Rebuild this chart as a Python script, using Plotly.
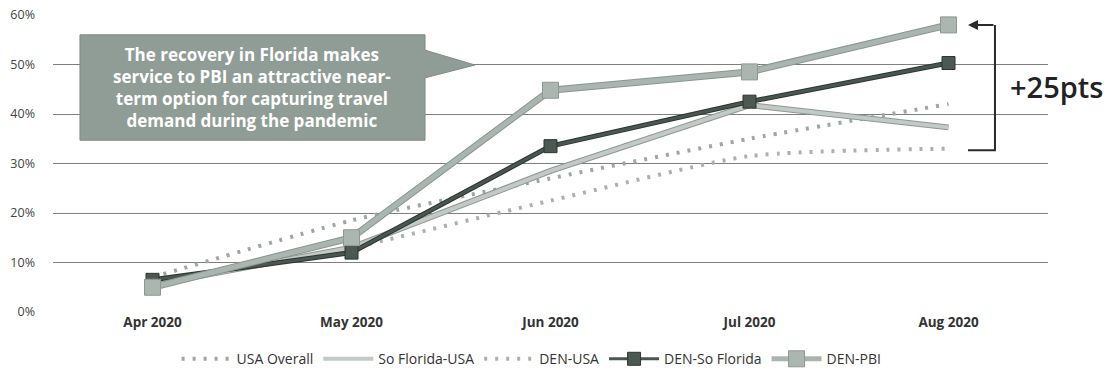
import plotly.graph_objects as go

months = ["Apr 2020", "May 2020", "Jun 2020", "Jul 2020", "Aug 2020"]
usa_overall = [7.0, 18.5, 27.0, 35.0, 42.0]
den_usa = [6.0, 13.0, 22.5, 31.5, 33.0]
sofl_usa = [5.5, 13.0, 28.5, 41.8, 37.3]
den_sofl = [6.5, 12.0, 33.5, 42.5, 50.3]
den_pbi = [5.0, 15.0, 44.8, 48.5, 58.0]
y_ticks = [0, 10, 20, 30, 40, 50, 60]
y_tick_text = ["0%", "10%", "20%", "30%", "40%", "50%", "60%"]

FONT = "Open Sans, Lato, sans-serif"
fig = go.Figure()

dot_col = "#9ea7a3"
fig.add_trace(go.Scatter(x=months, y=usa_overall, name="USA Overall", mode="lines", legendrank=1,
                         line=dict(color=dot_col, width=4, dash="3px,8px", shape="spline", smoothing=0.6)))
fig.add_trace(go.Scatter(x=months, y=den_usa, name="DEN-USA", mode="lines", legendrank=3,
                         line=dict(color="#aab2ae", width=4, dash="3px,8px", shape="spline", smoothing=0.6)))
# So Florida-USA with edge
fig.add_trace(go.Scatter(x=months, y=sofl_usa, mode="lines", showlegend=False, hoverinfo="skip",
                         line=dict(color="#8e9893", width=6)))
fig.add_trace(go.Scatter(x=months, y=sofl_usa, name="So Florida-USA", mode="lines", legendrank=2,
                         line=dict(color="#c3cac6", width=4)))
# DEN-So Florida
fig.add_trace(go.Scatter(x=months, y=den_sofl, mode="lines", showlegend=False, hoverinfo="skip",
                         line=dict(color="#2c3430", width=5)))
fig.add_trace(go.Scatter(x=months, y=den_sofl, name="DEN-So Florida", mode="lines+markers", legendrank=4,
                         line=dict(color="#4a5650", width=3),
                         marker=dict(symbol="square", size=13, color="#4c5852",
                                     line=dict(color="#2d3530", width=1))))
# DEN-PBI
fig.add_trace(go.Scatter(x=months, y=den_pbi, mode="lines", showlegend=False, hoverinfo="skip",
                         line=dict(color="#8a9690", width=7)))
fig.add_trace(go.Scatter(x=months, y=den_pbi, name="DEN-PBI", mode="lines+markers", legendrank=5,
                         line=dict(color="#aab5b0", width=5),
                         marker=dict(symbol="square", size=16, color="#abb6b1",
                                     line=dict(color="#8d9893", width=1))))

# callout box
fig.add_shape(type="path", xref="paper", yref="y",
              path="M 0.0271 56 L 0.3739 56 L 0.3739 52.9 L 0.4241 49.9 L 0.3739 47.3 L 0.3739 34.7 L 0.0271 34.7 Z",
              fillcolor="#8f9d96", line=dict(color="#7f8c86", width=1), layer="above")
fig.add_annotation(xref="paper", yref="y", x=0.2005, y=45.4, xanchor="center", yanchor="middle",
                   showarrow=False,
                   text="The recovery in Florida makes<br>service to PBI an attractive near-<br>term option for capturing travel<br>demand during the pandemic",
                   font=dict(family=FONT, size=17, color="white", weight="bold"), align="center")

# bracket
fig.add_shape(type="path", xref="paper", yref="y",
              path="M 0.9467 58 L 0.9467 32.7 L 0.9196 32.7",
              line=dict(color="#2a2a2a", width=2))
fig.add_annotation(xref="paper", yref="y", x=0.9196, y=58, ax=27, ay=0, text="",
                   showarrow=True, arrowhead=2, arrowsize=1, arrowwidth=2, arrowcolor="#2a2a2a")
fig.add_annotation(xref="paper", yref="y", x=1.009, y=45.5, xanchor="center", yanchor="middle",
                   showarrow=False,
                   text="+25pts", font=dict(family=FONT, size=29, color="#222222", weight=600))

fig.update_layout(
    width=1108, height=374,
    margin=dict(l=53, r=60, t=15, b=62, autoexpand=False),
    plot_bgcolor="white", paper_bgcolor="white",
    font=dict(family=FONT, color="#333333"),
    showlegend=True,
    legend=dict(orientation="h", x=0.481, xanchor="center", y=-0.105, yanchor="top",
                font=dict(size=14, color="#333333"), itemwidth=50, tracegroupgap=0),
)
fig.update_xaxes(type="category", range=[-0.5, 4.5], showgrid=False, zeroline=False,
                 showline=False, ticks="",
                 tickfont=dict(family=FONT, size=13.5, color="#333333", weight="bold"))
fig.update_yaxes(range=[0, 60], tickvals=y_ticks, ticktext=y_tick_text, showgrid=True,
                 gridcolor="#7f7f7f", gridwidth=1.2, zeroline=False, showline=False,
                 ticklabelstandoff=17,
                 tickfont=dict(family=FONT, size=12.5, color="#444444"))

fig.write_html("out.html")
